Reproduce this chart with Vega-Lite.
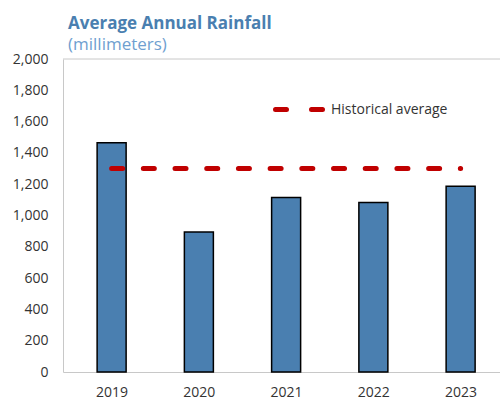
{
  "$schema": "https://vega.github.io/schema/vega-lite/v6.json",
  "width": 437,
  "height": 313,
  "autosize": {"type": "none"},
  "padding": {"left": 63, "top": 59, "right": 0, "bottom": 30},
  "config": {"view": {"stroke": null}, "font": "Open Sans"},
  "title": {
    "text": "Average Annual Rainfall",
    "subtitle": "(millimeters)",
    "anchor": "start",
    "frame": "group",
    "dx": 5,
    "fontSize": 17,
    "fontWeight": "bold",
    "color": "#4a7fb0",
    "subtitleColor": "#6f9fd0",
    "subtitleFontSize": 17,
    "subtitlePadding": 4,
    "offset": -2,
    "font": "Open Sans",
    "subtitleFont": "Open Sans"
  },
  "datasets": {
    "rain": [
      {"year": 2019, "mm": 1465},
      {"year": 2020, "mm": 894},
      {"year": 2021, "mm": 1115},
      {"year": 2022, "mm": 1083},
      {"year": 2023, "mm": 1187}
    ],
    "avg": [
      {"year": 2019, "mm": 1300, "series": "Historical average"},
      {"year": 2023, "mm": 1300, "series": "Historical average"}
    ],
    "top": [
      {"mm": 2000}
    ]
  },
  "layer": [
    {
      "data": {"name": "rain"},
      "mark": {"type": "bar", "width": 29, "fill": "#4a7fb0", "stroke": "#000000", "strokeWidth": 1.5},
      "encoding": {
        "x": {
          "field": "year", "type": "quantitative",
          "scale": {"domain": [2018.5, 2023.394], "nice": false, "zero": false},
          "axis": {"values": [2019, 2020, 2021, 2022, 2023], "format": "d", "grid": false, "ticks": false, "labelOverlap": false,
                   "domainColor": "#c8c8c8", "labelFontSize": 14, "labelPadding": 13, "labelColor": "#333333", "title": null}
        },
        "y": {
          "field": "mm", "type": "quantitative",
          "scale": {"domain": [0, 2000], "nice": false},
          "axis": {"values": [0, 200, 400, 600, 800, 1000, 1200, 1400, 1600, 1800, 2000], "format": ",d", "grid": false, "ticks": false, "labelOverlap": false,
                   "domainColor": "#c8c8c8", "labelFontSize": 14, "labelPadding": 15, "labelColor": "#333333", "title": null}
        }
      }
    },
    {
      "data": {"name": "avg"},
      "mark": {"type": "line", "strokeWidth": 5, "strokeDash": [11, 20.7], "strokeCap": "round"},
      "encoding": {
        "x": {"field": "year", "type": "quantitative",
          "axis": {"values": [2019, 2020, 2021, 2022, 2023], "format": "d", "grid": false, "ticks": false, "labelOverlap": false,
                   "domainColor": "#c8c8c8", "labelFontSize": 14, "labelPadding": 13, "labelColor": "#333333", "title": null}},
        "y": {"field": "mm", "type": "quantitative",
          "axis": {"values": [0, 200, 400, 600, 800, 1000, 1200, 1400, 1600, 1800, 2000], "format": ",d", "grid": false, "ticks": false, "labelOverlap": false,
                   "domainColor": "#c8c8c8", "labelFontSize": 14, "labelPadding": 15, "labelColor": "#333333", "title": null}},
        "color": {
          "field": "series", "type": "nominal",
          "scale": {"range": ["#c00000"]},
          "legend": {
            "orient": "none", "legendX": 210, "legendY": 24, "title": null, "padding": 0,
            "symbolType": "stroke", "symbolSize": 2304, "symbolStrokeWidth": 5, "symbolDash": [11, 25],
            "labelFontSize": 14, "labelColor": "#333333", "labelOffset": 5,
            "encode": {"symbols": {"update": {"strokeCap": {"value": "round"}}}}
          }
        }
      }
    },
    {
      "data": {"name": "top"},
      "mark": {"type": "rule", "color": "#c8c8c8", "strokeWidth": 1},
      "encoding": {"y": {"field": "mm", "type": "quantitative",
          "axis": {"values": [0, 200, 400, 600, 800, 1000, 1200, 1400, 1600, 1800, 2000], "format": ",d", "grid": false, "ticks": false, "labelOverlap": false,
                   "domainColor": "#c8c8c8", "labelFontSize": 14, "labelPadding": 15, "labelColor": "#333333", "title": null}}}
    }
  ]
}
